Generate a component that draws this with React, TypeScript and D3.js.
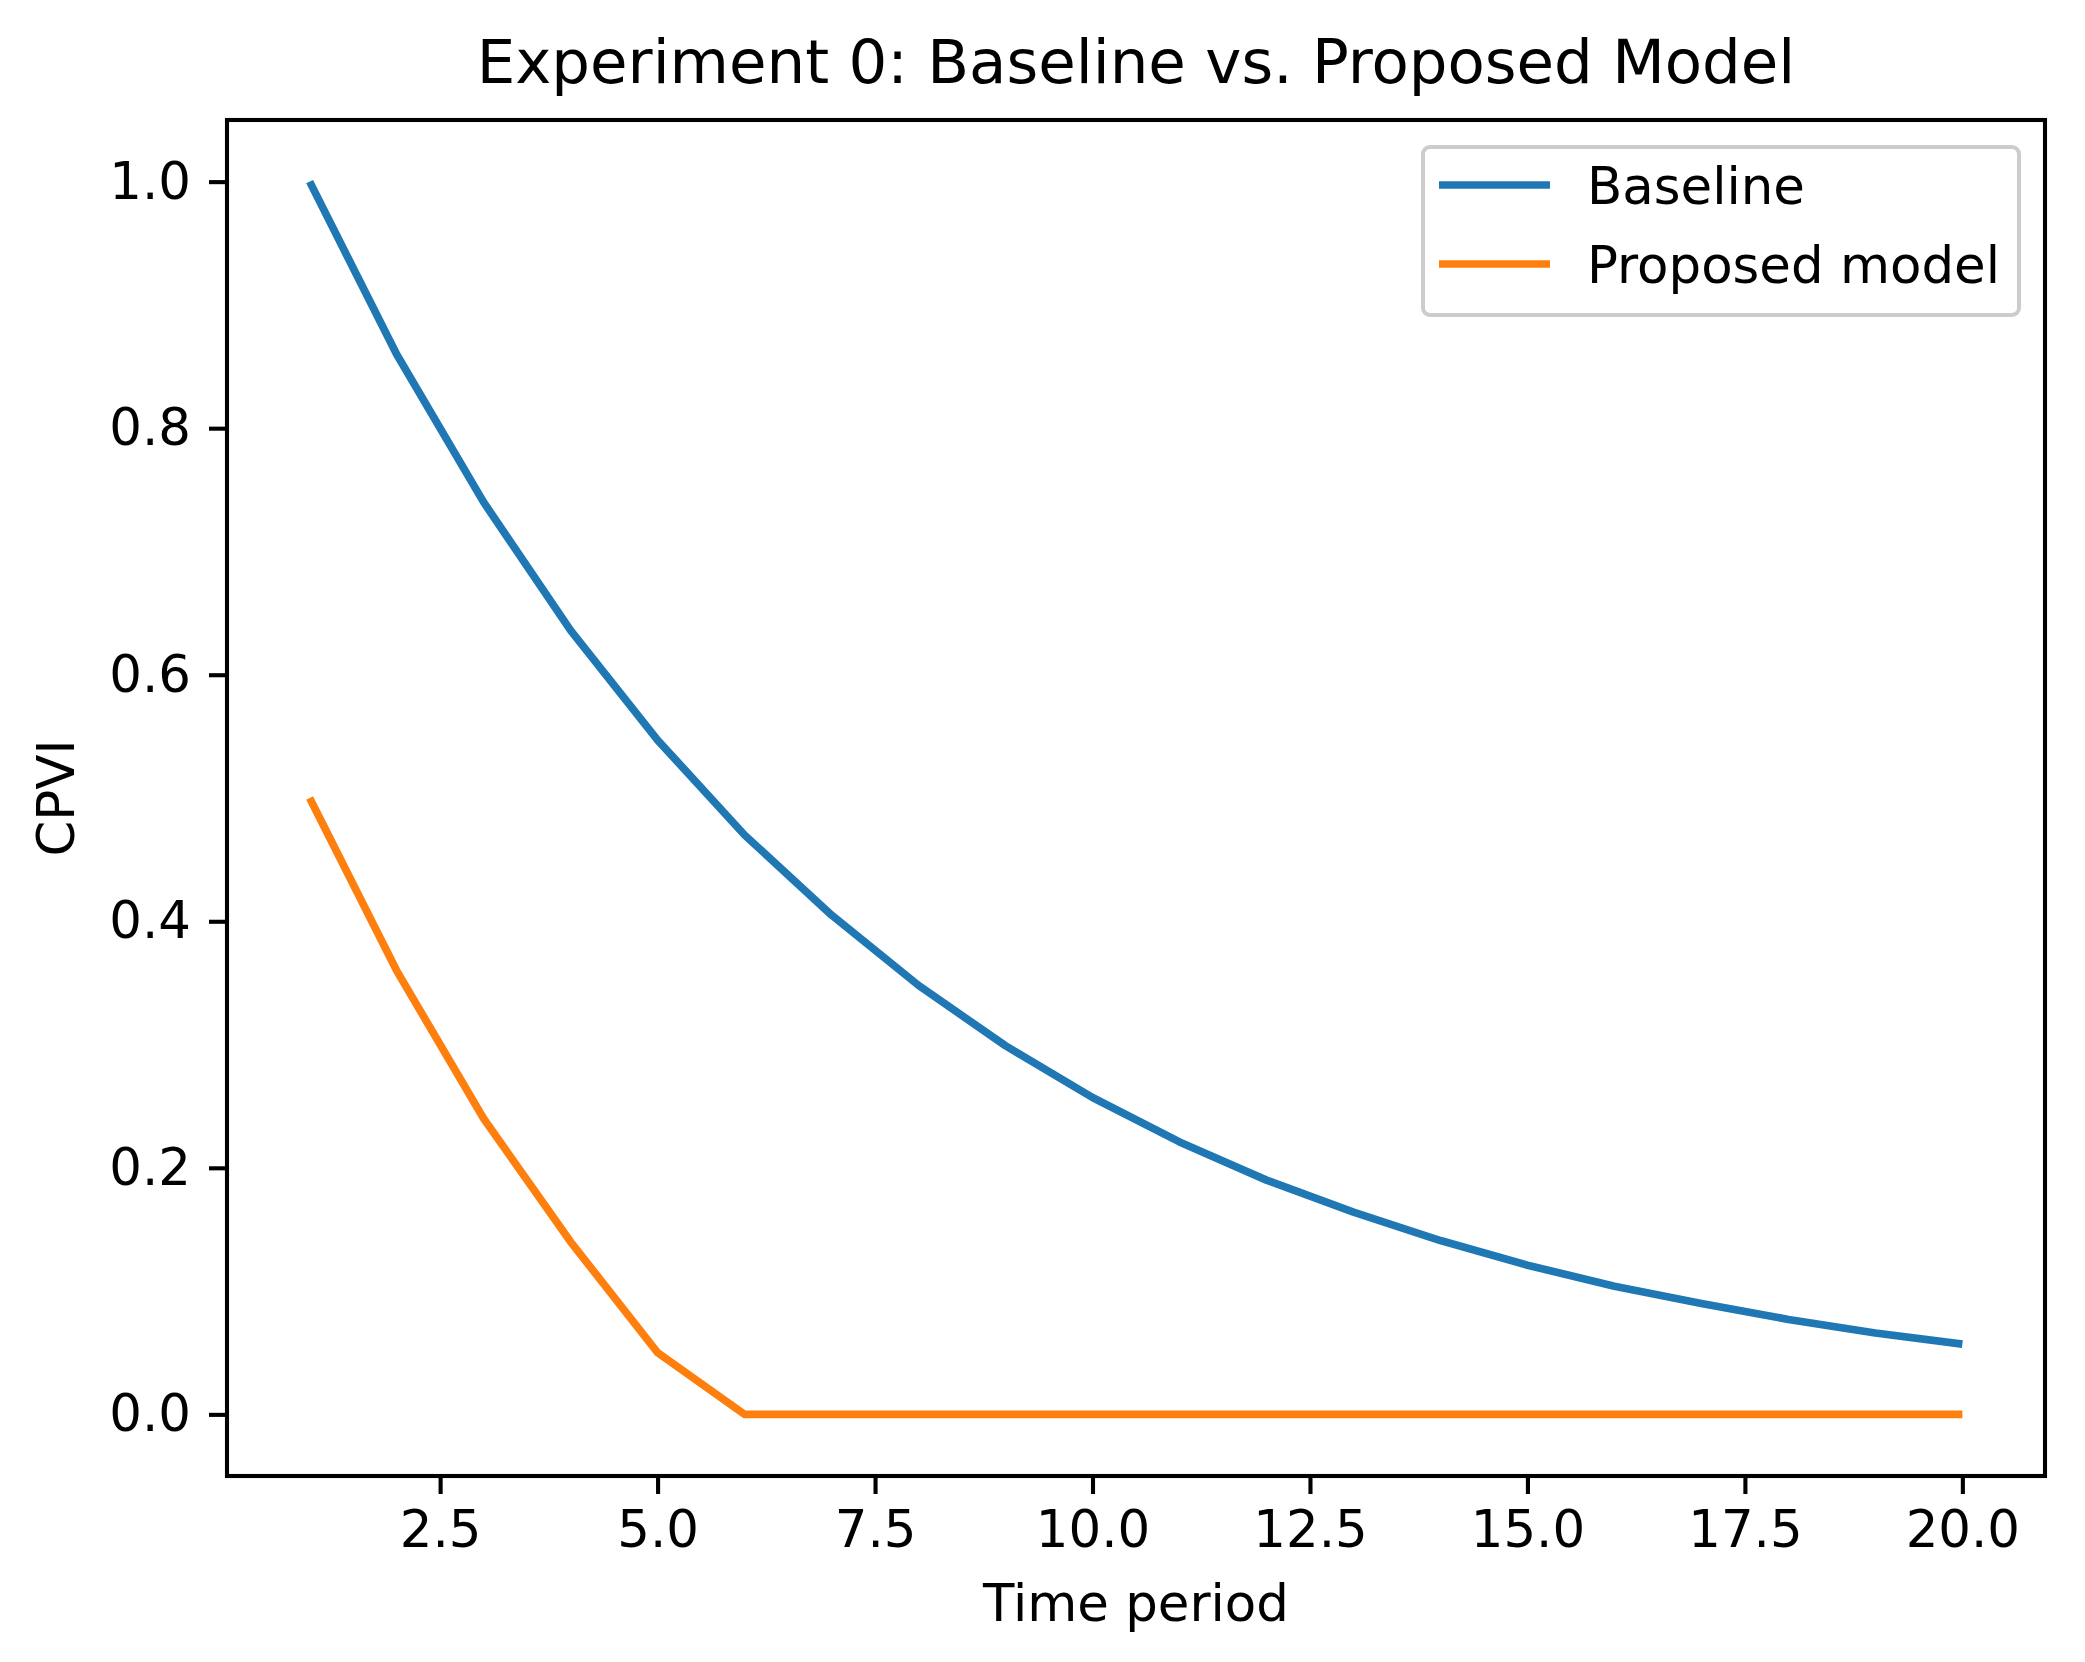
import { useRef, useEffect } from 'react'
import * as d3 from 'd3'

const periods = [1, 2, 3, 4, 5, 6, 7, 8, 9, 10, 11, 12, 13, 14, 15, 16, 17, 18, 19, 20]
const baseline = [1.0, 0.86, 0.74, 0.636, 0.547, 0.47, 0.405, 0.348, 0.299, 0.257, 0.221, 0.19, 0.164, 0.141, 0.121, 0.104, 0.09, 0.077, 0.066, 0.057]
const proposed = [0.5, 0.36, 0.24, 0.14, 0.05, 0, 0, 0, 0, 0, 0, 0, 0, 0, 0, 0, 0, 0, 0, 0]
const seriesNames = ['Baseline', 'Proposed model']
const seriesColors = ['#1f77b4', '#ff7f0e']
const xTicks = [2.5, 5.0, 7.5, 10.0, 12.5, 15.0, 17.5, 20.0]
const yTicks = [0.0, 0.2, 0.4, 0.6, 0.8, 1.0]

const WIDTH = 2085
const HEIGHT = 1662
const FONT = "'DejaVu Sans', sans-serif"

export default function App() {
  const svgRef = useRef<SVGSVGElement>(null)

  useEffect(() => {
    if (!svgRef.current) return
    const svg = d3.select(svgRef.current)
    svg.selectAll('*').remove()

    const margin = { top: 120, right: 40, bottom: 186, left: 227 }
    const w = WIDTH - margin.left - margin.right
    const h = HEIGHT - margin.top - margin.bottom

    svg.append('rect').attr('width', WIDTH).attr('height', HEIGHT).attr('fill', '#fff')

    const g = svg.append('g').attr('transform', `translate(${margin.left},${margin.top})`)

    const x = d3.scaleLinear().domain([0.05, 20.95]).range([0, w])
    const y = d3.scaleLinear().domain([-0.05, 1.05]).range([h, 0])

    const line = d3.line<number>()
      .x((_, i) => x(periods[i]))
      .y(d => y(d))

    ;[baseline, proposed].forEach((s, i) => {
      g.append('path')
        .datum(s)
        .attr('d', line)
        .attr('fill', 'none')
        .attr('stroke', seriesColors[i])
        .attr('stroke-width', 7.7)
        .attr('stroke-linejoin', 'round')
        .attr('stroke-linecap', 'butt')
    })

    // axes
    const xAxis = g.append('g')
      .attr('transform', `translate(0,${h})`)
      .call(d3.axisBottom(x).tickValues(xTicks).tickFormat(d3.format('.1f')).tickSize(18).tickPadding(17))
    const yAxis = g.append('g')
      .call(d3.axisLeft(y).tickValues(yTicks).tickFormat(d3.format('.1f')).tickSize(18).tickPadding(18))

    ;[xAxis, yAxis].forEach(a => {
      a.select('.domain').remove()
      a.selectAll('.tick line').attr('stroke', '#000').attr('stroke-width', 4.1)
      a.selectAll('text')
        .attr('fill', '#000')
        .attr('font-size', '51.4px')
        .attr('font-family', FONT)
    })

    // frame
    g.append('rect')
      .attr('width', w)
      .attr('height', h)
      .attr('fill', 'none')
      .attr('stroke', '#000')
      .attr('stroke-width', 4.1)

    // title and labels
    svg.append('text')
      .attr('x', margin.left + w / 2)
      .attr('y', 83)
      .attr('text-anchor', 'middle')
      .attr('font-size', '61px')
      .attr('font-family', FONT)
      .text('Experiment 0: Baseline vs. Proposed Model')

    svg.append('text')
      .attr('x', margin.left + w / 2)
      .attr('y', 1621)
      .attr('text-anchor', 'middle')
      .attr('font-size', '51.4px')
      .attr('font-family', FONT)
      .text('Time period')

    svg.append('text')
      .attr('transform', `translate(74,${margin.top + h / 2}) rotate(-90)`)
      .attr('text-anchor', 'middle')
      .attr('font-size', '51.4px')
      .attr('font-family', FONT)
      .text('CPVI')

    // legend, anchored to the upper right of the axes
    const lg = svg.append('g').attr('transform', `translate(${WIDTH - margin.right - 26 - 596},${margin.top + 27})`)
    lg.append('rect')
      .attr('width', 596)
      .attr('height', 168)
      .attr('rx', 7)
      .attr('fill', '#fff')
      .attr('fill-opacity', 0.8)
      .attr('stroke', '#ccc')
      .attr('stroke-width', 4)
    seriesNames.forEach((name, i) => {
      const cy = 38 + i * 79
      lg.append('line')
        .attr('x1', 16).attr('x2', 127)
        .attr('y1', cy).attr('y2', cy)
        .attr('stroke', seriesColors[i])
        .attr('stroke-width', 7.7)
      lg.append('text')
        .attr('x', 164)
        .attr('y', cy)
        .attr('dy', '0.36em')
        .attr('font-size', '51.4px')
        .attr('font-family', FONT)
        .text(name)
    })
  }, [])

  return (
    <svg
      ref={svgRef}
      width={WIDTH}
      height={HEIGHT}
      style={{ position: 'absolute', left: 0, top: 0 }}
    />
  )
}
